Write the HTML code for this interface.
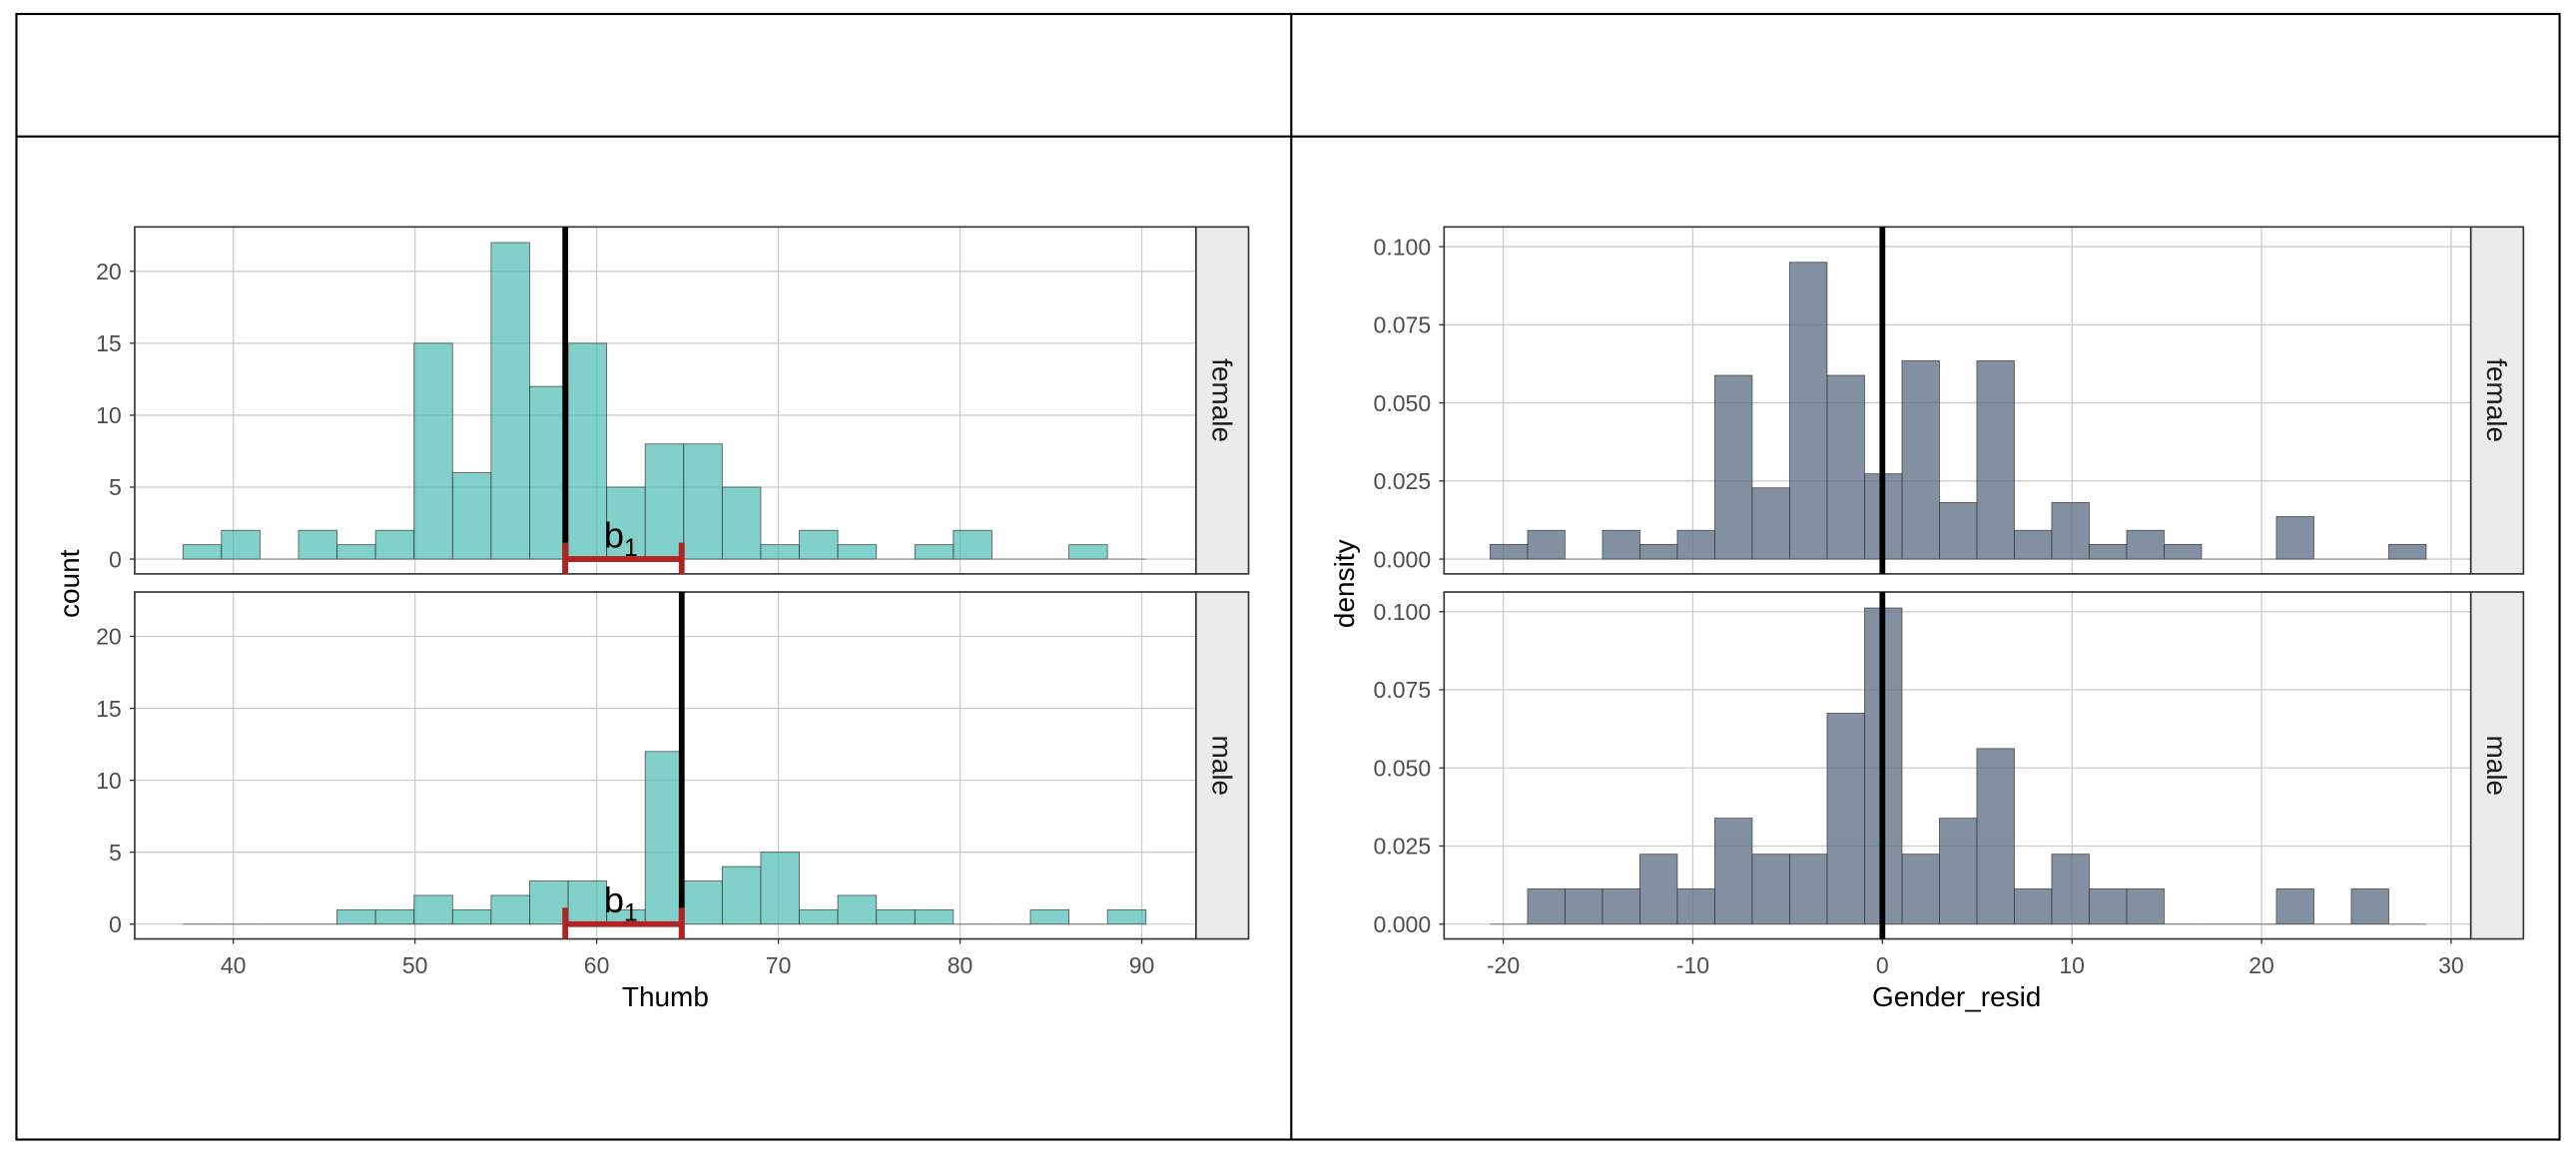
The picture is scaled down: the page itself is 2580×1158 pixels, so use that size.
<!DOCTYPE html>
<html><head><meta charset="utf-8"><style>
html,body{margin:0;padding:0;background:#fff;}
svg{display:block;}
text{font-family:"Liberation Sans",sans-serif;}
</style></head><body>
<svg id="s" width="2580" height="1158" viewBox="0 0 1568 703" preserveAspectRatio="none" xmlns="http://www.w3.org/2000/svg">
<rect x="0" y="0" width="1568" height="703" fill="#fff"/>
<rect x="10" y="8.5" width="1548" height="684.5" fill="none" stroke="#000" stroke-width="1.3"/>
<line x1="786" y1="8" x2="786" y2="693" stroke="#000" stroke-width="1.3"/>
<line x1="10" y1="83" x2="1558" y2="83" stroke="#000" stroke-width="1.3"/>
<g id="g"></g>
</svg>
<script>
var g=document.getElementById('g');var h='';
function L(x1,y1,x2,y2,c,w){h+='<line x1="'+x1+'" y1="'+y1+'" x2="'+x2+'" y2="'+y2+'" stroke="'+c+'" stroke-width="'+w+'"/>';}
function T(x,y,t,sz,anc,col,rot){h+='<text x="'+x+'" y="'+y+'" font-size="'+sz+'" text-anchor="'+anc+'" fill="'+col+'"'+(rot?' transform="rotate('+rot+' '+x+' '+y+')"':'')+'>'+t+'</text>';}
function panel(o){
 // o: x0,x1,y0,y1,xs(fn),ys(fn),xt,yt,ytl,bins,fill,strip
 h+='<rect x="'+o.x0+'" y="'+o.y0+'" width="'+(o.x1-o.x0)+'" height="'+(o.y1-o.y0)+'" fill="#fff"/>';
 o.xt.forEach(function(v){L(o.xs(v),o.y0,o.xs(v),o.y1,'#cccccc',0.8);});
 o.yt.forEach(function(v,i){L(o.x0,o.ys(v),o.x1,o.ys(v),'#cccccc',0.8);T(o.x0-8,o.ys(v)+5,o.ytl[i],14,'end','#4d4d4d');L(o.x0-3,o.ys(v),o.x0,o.ys(v),'#333',0.8);});
 o.bins.forEach(function(b){var x=o.xs(b[0]),w=o.xs(b[1])-x,y=o.ys(b[2]),y0=o.ys(0);
  if(b[2]>0)h+='<rect x="'+x+'" y="'+y+'" width="'+w+'" height="'+(y0-y)+'" fill="'+o.fill+'" stroke="#333" stroke-width="0.5" stroke-opacity="0.8"/>';
  else L(x,y0,x+w,y0,'#777',0.6);});
 h+='<rect x="'+o.x0+'" y="'+o.y0+'" width="'+(o.x1-o.x0)+'" height="'+(o.y1-o.y0)+'" fill="none" stroke="#333" stroke-width="1"/>';
 h+='<rect x="'+o.x1+'" y="'+o.y0+'" width="32" height="'+(o.y1-o.y0)+'" fill="#ebebeb" stroke="#333" stroke-width="1"/>';
 T(o.x1+10,(o.y0+o.y1)/2,o.strip,17,'middle','#1a1a1a',90);
}
// left
var lxs=function(v){return 142+(v-40)*11.06;};
var fc=[1,2,0,2,1,2,15,6,22,12,15,5,8,8,5,1,2,1,0,1,2,0,0,1,0];
var mc=[0,0,0,0,1,1,2,1,2,3,3,1,12,3,4,5,1,2,1,1,0,0,1,0,1];
function mk(c,s,w){return c.map(function(v,i){return [s+i*w,s+(i+1)*w,v];});}
var lt=[40,50,60,70,80,90];
[[138,349,340,fc,'female',58.27],[360,571,562,mc,'male',64.68]].forEach(function(p){
 var ys=(function(z){return function(v){return z-v*8.75;};})(p[2]);
 panel({x0:82,x1:728,y0:p[0],y1:p[1],xs:lxs,ys:ys,xt:lt,yt:[0,5,10,15,20],ytl:['0','5','10','15','20'],bins:mk(p[3],37.23,2.12),fill:'rgba(80,190,180,0.72)',strip:p[4]});
 L(lxs(p[5]),p[0],lxs(p[5]),p[1],'#000',3.5);
 var a=lxs(58.27),b=lxs(64.68),y=p[2];
 L(a,y,b,y,'#b22222',3.5);L(a,y-10,a,p[1],'#b22222',3.5);L(b,y-10,b,p[1],'#b22222',3.5);
 h+='<text x="'+(lxs(60.4))+'" y="'+(y-7)+'" font-size="22" fill="#000">b<tspan font-size="15" dy="5">1</tspan></text>';
});
lt.forEach(function(v){T(lxs(v),592,v,14,'middle','#4d4d4d');L(lxs(v),571,lxs(v),574,'#333',0.8);});
T(405,612,'Thumb',17,'middle','#000');
T(48,355,'count',17,'middle','#000',-90);
// right
var rxs=function(v){return 915+(v+20)*11.54;};
var fd=[0.0047,0.0092,0,0.0092,0.0047,0.0092,0.0588,0.0228,0.095,0.0588,0.0273,0.0635,0.0181,0.0635,0.0092,0.0181,0.0047,0.0092,0.0047,0,0,0.0136,0,0,0.0047];
var md=[0,0.0113,0.0113,0.0113,0.0224,0.0113,0.0339,0.0224,0.0224,0.0675,0.1012,0.0224,0.0339,0.0562,0.0113,0.0224,0.0113,0.0113,0,0,0,0.0113,0,0.0113,0];
var rt=[-20,-10,0,10,20,30];
[[138,349,340,fd,'female'],[360,571,562,md,'male']].forEach(function(p){
 var ys=(function(z){return function(v){return z-v*1900;};})(p[2]);
 panel({x0:879,x1:1504,y0:p[0],y1:p[1],xs:rxs,ys:ys,xt:rt,yt:[0,0.025,0.05,0.075,0.1],ytl:['0.000','0.025','0.050','0.075','0.100'],bins:mk(p[3],-20.69,1.975),fill:'rgba(95,113,136,0.78)',strip:p[4]});
 L(rxs(0),p[0],rxs(0),p[1],'#000',3.5);
});
rt.forEach(function(v){T(rxs(v),592,v,14,'middle','#4d4d4d');L(rxs(v),571,rxs(v),574,'#333',0.8);});
T(1191,612,'Gender_resid',17,'middle','#000');
T(824,355,'density',17,'middle','#000',-90);
g.innerHTML=h;
</script>
</body></html>
